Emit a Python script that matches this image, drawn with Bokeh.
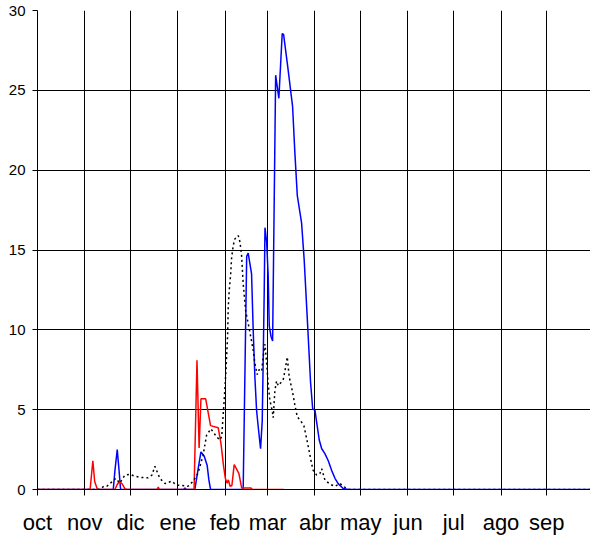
from bokeh.plotting import figure
from bokeh.models import Range1d, FixedTicker
from bokeh.embed import file_html
from bokeh.resources import INLINE

# x positions are days counted from 1 October
month_starts = [0, 31, 61, 92, 123, 151, 182, 212, 243, 273, 304, 334]
month_labels = ["oct", "nov", "dic", "ene", "feb", "mar", "abr", "may", "jun", "jul", "ago", "sep"]
y_ticks = [0, 5, 10, 15, 20, 25, 30]

blue_day = [0, 47.5, 49.7, 50.8, 52.3, 53.4, 54.5, 96.0, 96.7, 97.5, 103.2, 105.2, 107.2, 109.3,
            111.3, 112.4, 113.5, 134.9, 137.2, 138.2, 140.4, 141.5, 142.6, 143.7, 144.8, 146.3,
            147.4, 148.0, 148.7, 149.2, 150.3, 151.3, 152.0, 153.1, 154.2, 156.2, 158.3, 160.5,
            161.4, 164.1, 167.3, 168.8, 170.4, 173.2, 174.9, 177.2, 179.1, 180.5, 182.0, 183.1,
            184.8, 186.4, 188.5, 190.7, 192.9, 195.1, 197.2, 200.5, 203.8, 365]
blue_val = [0, 0, 0, 1.2, 2.5, 1.3, 0, 0, 0.1, 0, 0, 1.2, 2.35, 2.1,
            1.5, 0.6, 0, 0, 14.6, 14.8, 13.5, 9.9, 7.0, 4.95, 3.9, 2.55,
            4.3, 7.9, 12.4, 16.4, 15.5, 13.4, 10.25, 9.6, 9.3, 25.95, 24.5, 28.55,
            28.5, 26.5, 24.0, 21.1, 18.4, 16.7, 14.4, 10.25, 6.7, 5.05, 4.95, 4.2,
            3.1, 2.55, 2.25, 1.8, 1.2, 0.7, 0.37, 0.06, 0, 0]

red_day = [0, 34.5, 36.3, 37.5, 39.3, 50.8, 52.2, 53.6, 55.5, 57.3, 58.5, 78.5, 79.2, 80.0,
           102.7, 104.6, 106.0, 107.2, 110.3, 113.5, 118.5, 120.3, 122.0, 123.2, 124.3, 125.2,
           126.3, 127.5, 129.0, 130.6, 132.1, 133.9, 140.0, 141.0, 161.7]
red_val = [0, 0, 1.8, 0.5, 0, 0, 0.3, 0.5, 0.35, 0.05, 0, 0, 0.15, 0,
           0, 8.1, 2.6, 5.68, 5.68, 4.0, 3.87, 2.9, 1.5, 0.7, 0.4, 0.6,
           0.2, 0.25, 1.56, 1.27, 1.0, 0.1, 0.1, 0, 0]

black_day = [0, 40.0, 42.0, 43.6, 45.5, 51.4, 54.0, 57.3, 60.6, 63.9, 68.3, 72.4, 75.0, 77.0,
             80.3, 83.6, 88.0, 91.2, 94.5, 98.7, 101.9, 105.2, 108.5, 110.9, 113.7, 117.5,
             119.6, 120.8, 122.3, 123.6, 124.7, 125.1, 125.7, 126.7, 127.3, 128.4, 129.5,
             131.7, 132.8, 133.9, 134.9, 136.5, 138.2, 140.0, 141.5, 142.6, 144.1, 145.2,
             147.0, 148.0, 149.2, 150.3, 151.3, 152.4, 154.0, 154.6, 155.7, 156.8, 157.9,
             159.7, 161.2, 162.7, 163.8, 165.1, 167.3, 168.8, 170.4, 172.6, 174.7, 176.5,
             178.2, 179.8, 180.8, 183.1, 185.2, 186.4, 188.5, 191.8, 195.1, 198.4, 202.8,
             205.0, 365]
black_val = [0, 0, 0.1, 0.2, 0.2, 0.7, 0.4, 0.9, 0.95, 0.83, 0.75, 0.73, 0.9, 1.45,
             0.69, 0.37, 0.52, 0.27, 0.25, 0.2, 0.5, 1.0, 2.1, 3.4, 3.8, 3.3,
             3.1, 3.3, 5.4, 7.4, 9.7, 11.4, 12.4, 13.5, 14.5, 15.3, 15.7,
             15.9, 15.5, 14.6, 12.9, 11.2, 10.4, 9.5, 8.7, 7.9, 7.2, 7.5,
             7.4, 8.3, 9.1, 7.9, 6.6, 5.6, 4.9, 4.5, 6.2, 6.8, 6.5,
             6.7, 6.9, 7.65, 8.3, 7.05, 6.1, 5.3, 4.55, 4.3, 4.0, 3.2,
             2.4, 1.6, 1.2, 0.9, 1.0, 1.3, 0.6, 0.33, 0.2, 0.37, 0.05,
             0, 0]

FONT = "Liberation Sans"

p = figure(width=590, height=537, output_backend="svg", toolbar_location=None,
           x_range=Range1d(0, 362.7), y_range=Range1d(0, 30),
           min_border_left=37, min_border_right=0, min_border_top=10, min_border_bottom=46)
p.outline_line_color = None
p.background_fill_color = "white"
p.border_fill_color = "white"

p.line(blue_day, blue_val, line_color="#0000FF", line_width=1.5)
p.line(red_day, red_val, line_color="#FF0000", line_width=1.5)
p.line(black_day, black_val, line_color="black", line_width=1.5, line_dash="2 3")

p.xaxis.ticker = FixedTicker(ticks=month_starts)
p.xaxis.major_label_overrides = {m: lab for m, lab in zip(month_starts, month_labels)}
p.yaxis.ticker = FixedTicker(ticks=y_ticks)

p.grid.grid_line_color = "black"
p.grid.grid_line_alpha = 1.0
p.grid.grid_line_width = 1

for ax in (p.xaxis, p.yaxis):
    ax.axis_line_color = "black"
    ax.axis_line_width = 1
    ax.major_tick_line_color = "black"
    ax.major_tick_in = 0
    ax.minor_tick_in = 0
    ax.minor_tick_out = 0
    ax.major_label_text_font = FONT
    ax.major_label_text_color = "black"

p.xaxis.major_tick_out = 6
p.yaxis.major_tick_out = 5
p.xaxis.major_label_text_font_size = "22px"
p.yaxis.major_label_text_font_size = "15px"
p.xaxis.major_label_standoff = 14
p.yaxis.major_label_standoff = 7

open("out.html", "w").write(file_html(p, INLINE))
